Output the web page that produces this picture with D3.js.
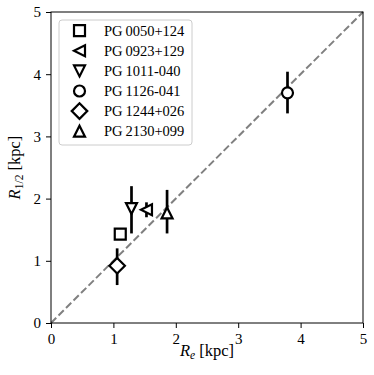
<!DOCTYPE html>
<html><head><meta charset="utf-8">
<script src="https://cdn.jsdelivr.net/npm/d3@7"></script>
<style>body{margin:0;background:#fff}svg{display:block}svg text{font-family:"Liberation Serif";}</style>
</head><body>
<script>
const names = ["PG\u20090050+124","PG\u20090923+129","PG\u20091011-040","PG\u20091126-041","PG\u20091244+026","PG\u20092130+099"];
const markers = ["square","triangleLeft","triangleDown","circle","diamond","triangleUp"];
const re = [1.11, 1.53, 1.29, 3.79, 1.06, 1.86];
const rhalf = [1.43, 1.82, 1.84, 3.70, 0.92, 1.77];
const errLo = [0.05, 0.12, 0.40, 0.33, 0.31, 0.33];
const errHi = [0.05, 0.12, 0.36, 0.34, 0.28, 0.37];
const ticks = [0,1,2,3,4,5];

const W=374,H=375;
const m={l:51,r:11,t:12,b:52};
const svg=d3.select("body").append("svg").attr("width",W).attr("height",H);
const x=d3.scaleLinear().domain([0,5]).range([m.l,W-m.r]);
const y=d3.scaleLinear().domain([0,5]).range([H-m.b,m.t]);
const serifFont='"Liberation Serif"';

// diagonal
svg.append("line").attr("x1",x(0)).attr("y1",y(0)).attr("x2",x(5)).attr("y2",y(5))
  .attr("stroke","#808080").attr("stroke-width",2).attr("stroke-dasharray","7.4,3.2");

// error bars
svg.append("g").selectAll("line").data(re).join("line")
  .attr("x1",(d)=>x(d)).attr("x2",(d)=>x(d))
  .attr("y1",(d,i)=>y(rhalf[i]-errLo[i])).attr("y2",(d,i)=>y(rhalf[i]+errHi[i]))
  .attr("stroke","#000").attr("stroke-width",2.7);

const ms=11;
function markerPath(type){
  const h=ms/2;
  switch(type){
    case "square": return `M${-h},${-h}H${h}V${h}H${-h}Z`;
    case "circle": return `M${h},0A${h},${h} 0 1,1 ${-h},0A${h},${h} 0 1,1 ${h},0Z`;
    case "diamond": {const d=ms*Math.SQRT2/2; return `M0,${-d}L${d},0L0,${d}L${-d},0Z`;}
    case "triangleUp": return `M0,${-h}L${h},${h}L${-h},${h}Z`;
    case "triangleDown": return `M0,${h}L${h},${-h}L${-h},${-h}Z`;
    case "triangleLeft": return `M${-h},0L${h},${-h}L${h},${h}Z`;
  }
}
svg.append("g").selectAll("path").data(re).join("path")
  .attr("transform",(d,i)=>`translate(${x(d)},${y(rhalf[i])})`)
  .attr("d",(d,i)=>markerPath(markers[i]))
  .attr("fill","#fff").attr("stroke","#000").attr("stroke-width",2.2).attr("stroke-linejoin","miter");

// frame
svg.append("rect").attr("x",x(0)).attr("y",y(5)).attr("width",x(5)-x(0)).attr("height",y(0)-y(5))
  .attr("fill","none").attr("stroke","#000").attr("stroke-width",1);

// axes
const xa=svg.append("g").attr("transform",`translate(0,${y(0)})`)
  .call(d3.axisBottom(x).tickValues(ticks).tickFormat(d3.format("d")).tickSize(5).tickPadding(5));
const ya=svg.append("g").attr("transform",`translate(${x(0)},0)`)
  .call(d3.axisLeft(y).tickValues(ticks).tickFormat(d3.format("d")).tickSize(5).tickPadding(5));
[xa,ya].forEach(a=>{
  a.attr("font-family",null).attr("font-size",null);
  a.select(".domain").remove();
  a.selectAll("text").style("font-family",serifFont).style("font-size","15px").attr("fill","#000");
  a.selectAll("line").attr("stroke","#000").attr("stroke-width",1);
});

// axis labels
const xl=svg.append("text").attr("x",(x(0)+x(5))/2).attr("y",356).attr("text-anchor","middle")
  .style("font-family",serifFont).style("font-size","16.5px");
xl.append("tspan").style("font-style","italic").text("R");
xl.append("tspan").style("font-style","italic").style("font-size","11.5px").attr("dy",3).text("e");
xl.append("tspan").attr("dy",-3).text(" [kpc]");

const yl=svg.append("text").attr("transform",`translate(20,${(y(0)+y(5))/2}) rotate(-90)`).attr("text-anchor","middle")
  .style("font-family",serifFont).style("font-size","16.5px");
yl.append("tspan").style("font-style","italic").text("R");
yl.append("tspan").style("font-size","11.5px").attr("dy",3).text("1/2");
yl.append("tspan").attr("dy",-3).text(" [kpc]");

// legend
const lg=svg.append("g");
lg.append("rect").attr("x",59).attr("y",20).attr("width",133).attr("height",125).attr("rx",3)
  .attr("fill","#fff").attr("stroke","#ccc").attr("stroke-width",1);
const rows=lg.selectAll("g.row").data(names).join("g").attr("class","row")
  .attr("transform",(d,i)=>`translate(0,${30.7+i*20.1})`);
rows.append("path").attr("transform","translate(79.5,0)").attr("d",(d,i)=>markerPath(markers[i]))
  .attr("fill","#fff").attr("stroke","#000").attr("stroke-width",2.2);
rows.append("text").attr("x",104).attr("y",5).style("font-family",serifFont).style("font-size","14.5px")
  .text(d=>d);
</script>
</body></html>
